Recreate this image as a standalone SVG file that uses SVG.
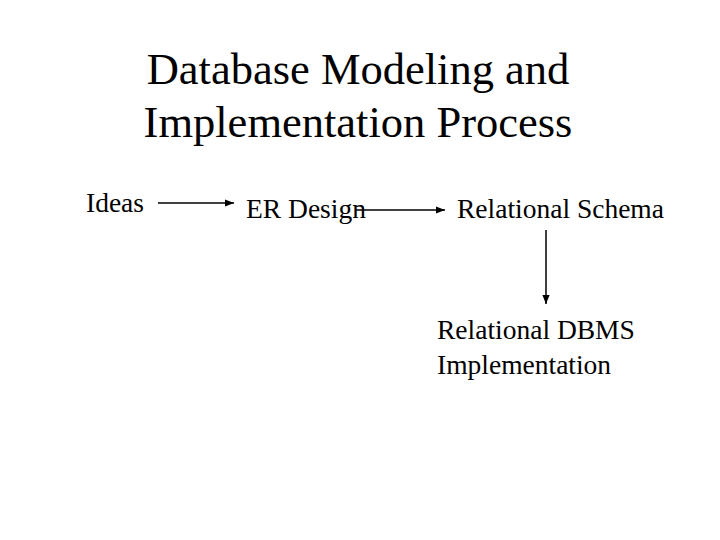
<svg xmlns="http://www.w3.org/2000/svg" width="720" height="540" viewBox="0 0 720 540">
<style>
text{font-family:"Liberation Serif","Times New Roman",serif;fill:#000}
.t{font-size:44.5px;text-anchor:middle}
.l{font-size:27.5px}
.c{stroke:#000;stroke-width:1.5;fill:none;marker-end:url(#a)}
</style>
<defs><marker id="a" viewBox="0 0 10 10" refX="10" refY="5" markerWidth="6" markerHeight="6" orient="auto"><path d="M0,1 L10,5 L0,9 z" fill="#000"/></marker></defs>
<rect width="720" height="540" fill="#fff"/>
<g id="title"><text class="t" x="358" y="84">Database Modeling and</text><text class="t" x="358" y="137">Implementation Process</text></g>
<g id="ideas"><text class="l" x="86" y="212">Ideas</text></g>
<g id="er"><text class="l" x="246" y="218">ER Design</text></g>
<g id="schema"><text class="l" x="457" y="218">Relational Schema</text></g>
<g id="dbms"><text class="l" x="437" y="339">Relational DBMS</text><text class="l" x="437" y="374">Implementation</text></g>
<g id="connectors">
<path class="c" d="M158,203 H234"/>
<path class="c" d="M355,210 H445"/>
<path class="c" d="M546,230 V304"/>
</g>
</svg>
